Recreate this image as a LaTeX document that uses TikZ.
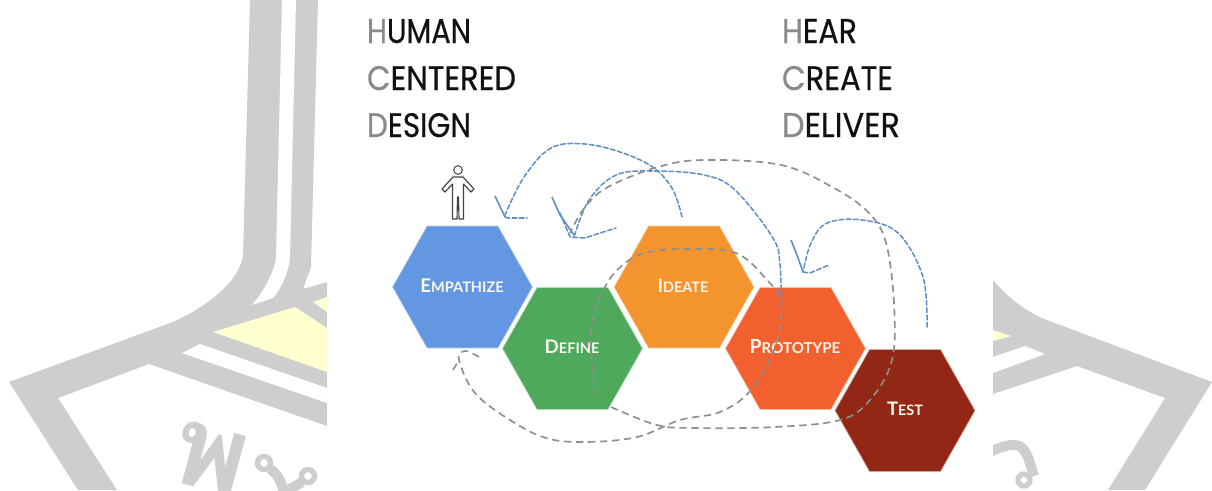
\documentclass[tikz,border=0pt]{standalone}
\usepackage{fontspec}
\usepackage{graphicx}
\setmainfont[FakeBold=0.5]{Poppins}
\newfontfamily\lab{Lato}
\newfontfamily\thaifont[Script=Thai]{Loma}
\definecolor{wm}{HTML}{CECECE}
\definecolor{wy}{HTML}{FFFFCF}
\definecolor{cblue}{HTML}{6497E2}
\definecolor{cgreen}{HTML}{4EA95C}
\definecolor{corange}{HTML}{F3942F}
\definecolor{cred}{HTML}{F1602E}
\definecolor{cdark}{HTML}{932716}
\definecolor{dblue}{HTML}{5F90C4}
\definecolor{dgrey}{HTML}{8F8F8F}
\definecolor{hgrey}{HTML}{8A8A8A}
\definecolor{htext}{HTML}{111111}
\definecolor{ltext}{HTML}{FBF7EC}
\tikzset{
  bluedash/.style={draw=dblue,line width=1.15pt,dash pattern=on 3.6pt off 1.8pt,line cap=round,line join=round},
  greydash/.style={draw=dgrey,line width=1.25pt,dash pattern=on 5.5pt off 3.5pt,line join=round},
  bluehead/.style={draw=dblue,line width=1.2pt,line join=round},
  head/.style={anchor=base west,inner sep=0pt,outer sep=0pt,text=htext},
  hexlabel/.style={inner sep=0pt,outer sep=0pt,text=ltext},
  wmglyph/.style={text=wm,inner sep=0pt,font=\thaifont\bfseries\fontsize{84}{84}\selectfont},
  wmstroke/.style={draw=wm,line width=7.5pt,line join=round},
  wmring/.style={draw=wm,line width=4pt},
}
\newcommand{\hd}[4]{\node[head] (#1) at (#2) {\resizebox{#3pt}{18pt}{\textcolor{hgrey}{#4}}};}
\newcommand{\hexa}[4]{%
  \fill[#4,draw=#4!40!white,line width=0.5pt] (#2-70,#3) -- (#2-35.5,#3-61) -- (#2+35.5,#3-61) -- (#2+70,#3) -- (#2+35.5,#3+61) -- (#2-35.5,#3+61) -- cycle;
  \node[inner sep=0pt,minimum size=0pt] (#1) at (#2,#3) {};}
\newcommand{\smc}[2]{{\fontsize{15}{15}\selectfont #1}{\fontsize{11.6}{12}\selectfont #2}}
\begin{document}
\begin{tikzpicture}[x=0.75pt,y=-0.75pt]
\useasboundingbox (0,0) rectangle (1212,490);
% watermark, left
\fill[wm] (9,382) -- (173,322) .. controls (210,305) and (240,280) .. (243,255) -- (250,0) -- (318,0) -- (311,267) -- (303,289) -- (327,282) -- (327,426) -- (149,364) -- (58,398) -- (117,490) -- (78,490) -- cycle;
\fill[white] (282,0) -- (296,0) -- (290,258) .. controls (288,275) and (280,290) .. (273,298) -- (252,305) .. controls (265,290) and (275,270) .. (276,257) -- cycle;
\fill[white] (182,353) -- (200,344) -- (327,388) -- (327,403) -- cycle;
\fill[wy] (213,332) -- (295,307) -- (327,328) -- (327,372) -- cycle;
\fill[wy] (313,302) -- (327,297) -- (327,312) -- cycle;
% watermark, right
\fill[wm] (993,280) .. controls (1010,300) and (1030,314) .. (1047,320) -- (1212,382) -- (1145,490) -- (1108,490) -- (1165,398) -- (1077,366) -- (993,394) -- cycle;
\fill[white] (1025,346) -- (1045,354) -- (993,373) -- (993,357) -- cycle;
\fill[wy] (993,330) -- (1011,336) -- (993,341) -- cycle;
% watermark lettering
\node[wmglyph,rotate=-15] (wa) at (210,459) {พ};
\begin{scope}
\clip (0,0) rectangle (327,490);
\draw[wmring] (264,463) circle (6.5);
\draw[wmstroke] (270,469) .. controls (278,474) and (281,482) .. (284,492);
\draw[wmring] (308,476) circle (6.5);
\draw[wmstroke] (302,482) .. controls (296,486) and (288,490) .. (280,493);
\end{scope}
\begin{scope}
\clip (993,0) rectangle (1212,490);
\draw[wmring] (1024,480) circle (6);
\draw[wmstroke] (990,452) .. controls (1000,447) and (1012,443) .. (1019,446) .. controls (1028,450) and (1030,465) .. (1034,476);
\end{scope}
% headings
\hd{h1}{367,43}{78}{H\textcolor{htext}{UMAN}}
\hd{h2}{367,90}{111.75}{C\textcolor{htext}{ENTERED}}
\hd{h3}{367,137}{78}{D\textcolor{htext}{ESIGN}}
\hd{h4}{782,43}{56.25}{H\textcolor{htext}{EAR}}
\hd{h5}{782,90}{83.25}{C\textcolor{htext}{REATE}}
\hd{h6}{782,137}{88.5}{D\textcolor{htext}{ELIVER}}
% hexagons
\hexa{emp}{462.5}{287}{cblue}
\hexa{def}{572.5}{348.5}{cgreen}
\hexa{ide}{684}{287}{corange}
\hexa{pro}{795.5}{348.5}{cred}
\hexa{tes}{905}{410.5}{cdark}
% labels
\node[hexlabel] (lemp) at (462,286) {\resizebox{62.5pt}{!}{\lab\bfseries\smc{E}{MPATHIZE}}};
\node[hexlabel] (ldef) at (572,347) {\resizebox{41pt}{!}{\lab\bfseries\smc{D}{EFINE}}};
\node[hexlabel] (lide) at (683,286) {\resizebox{38pt}{!}{\lab\bfseries\smc{I}{DEATE}}};
\node[hexlabel] (lpro) at (795,347) {\resizebox{68pt}{!}{\lab\bfseries\smc{P}{ROTOTYPE}}};
\node[hexlabel] (ltes) at (905,409) {\resizebox{27pt}{!}{\lab\bfseries\smc{T}{EST}}};
% person
\node[draw=htext!80,circle,inner sep=0pt,minimum size=6.5pt,line width=0.75pt] (head) at (458,170) {};
\draw[htext!80,line width=0.85pt,line join=round] (453,177) -- (463,177) -- (474,189) -- (471,192) -- (463.5,184) -- (463.5,219) -- (459,219) -- (458.5,197) -- (457.5,197) -- (457,219) -- (452.5,219) -- (452.5,184) -- (445,192) -- (442,189) -- cycle;
% blue loops
\draw[bluedash] plot[smooth,tension=0.6] coordinates {(682,217) (673,190) (654,168) (623,153) (585,144) (551,148) (524,177) (505,215)};
\draw[bluehead] (495,196) -- (505,217);
\draw[bluedash] (505,217) -- (508,218) -- (527,218);
\draw[bluedash] plot[smooth,tension=0.6] coordinates {(781,297) (780,265) (773,238) (735,190) (704,175) (654,171) (616,175) (589,200) (574,237)};
\draw[bluehead] (552,197) -- (560,215) -- (574,235);
\draw[bluedash] (560,213) -- (570,237) -- (585,238) -- (600,233) -- (616,228);
\draw[bluedash] plot[smooth,tension=0.6] coordinates {(927,327) (923,277) (898,233) (862,220) (827,223) (811,243) (803,272)};
\draw[bluehead] (791,240) -- (798,258) -- (803,272);
\draw[bluedash] (803,272) -- (810,273) -- (829,265);
% grey loops
\draw[greydash] plot[smooth,tension=0.6] coordinates {(611,407) (657,425) (696,428) (775,427) (840,420) (870,400) (892,360) (894,303) (886,243) (869,213) (834,188) (781,165) (704,160) (658,167) (608,187) (585,207) (570,233)};
\draw[greydash] plot[smooth,tension=0.6] coordinates {(479,357) (465,351) (459,360) (475,393) (510,420) (546,438) (585,442) (637,437) (680,420) (720,412) (751,390) (775,347) (781,303) (767,280) (736,253) (688,249) (649,252) (625,263) (605,287) (591,330) (595,393)};
\draw[greydash] (453,370) -- (459,360);
\end{tikzpicture}
\end{document}
